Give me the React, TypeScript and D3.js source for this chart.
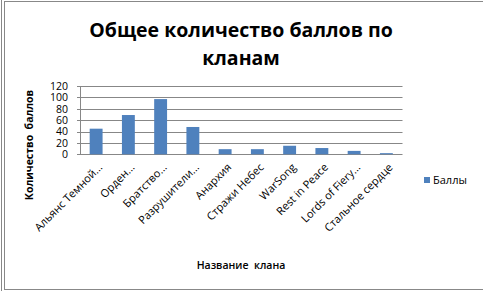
import React from "react";
import * as d3 from "d3";

const categories = [
  "Альянс Темной...",
  "Орден...",
  "Братство...",
  "Разрушители...",
  "Анархия",
  "Стражи Небес",
  "WarSong",
  "Rest in Peace",
  "Lords of Fiery...",
  "Стальное сердце",
];
const values = [45, 69, 97, 48, 9, 9, 15, 11, 6, 2];
const yTicks = [0, 20, 40, 60, 80, 100, 120];
const titleLines = ["Общее количество баллов по", "кланам"];
const seriesName = "Баллы";
const yTitle = "Количество  баллов";
const xTitle = "Название  клана";

const W = 483;
const H = 291;
const plot = { left: 80, right: 402.5, top: 86, bottom: 154.3 };
const FONT = "'Open Sans', 'DejaVu Sans', sans-serif";
const BAR = "#4F81BD";
const GRID = "#878787";

export default function App() {
  const x = d3
    .scaleBand<string>()
    .domain(categories)
    .range([plot.left, plot.right])
    .paddingInner(0.6)
    .paddingOuter(0.3);
  const y = d3.scaleLinear().domain([0, 120]).range([plot.bottom, plot.top]);

  return (
    <svg
      width={W}
      height={H}
      style={{ position: "absolute", left: 0, top: 0, background: "#fff" }}
      fontFamily={FONT}
    >
      {/* chart border */}
      <line x1={1.5} y1={0} x2={1.5} y2={H} stroke="#888" strokeWidth={1} />
      <line x1={4.5} y1={1} x2={4.5} y2={290} stroke="#888" strokeWidth={1} />
      <line x1={4.5} y1={1.5} x2={W} y2={1.5} stroke="#888" strokeWidth={1} />
      <line x1={4.5} y1={289.5} x2={W} y2={289.5} stroke="#888" strokeWidth={1} />

      {/* title */}
      {titleLines.map((t, i) => (
        <text
          key={i}
          x={241}
          y={37 + i * 28}
          textAnchor="middle"
          fontSize={19.5}
          fontWeight="bold"
          fill="#000"
        >
          {t}
        </text>
      ))}

      {/* gridlines */}
      {yTicks.map((t) => (
        <g key={t}>
          <line
            x1={plot.left - 3}
            x2={plot.right}
            y1={Math.round(y(t)) + 0.5}
            y2={Math.round(y(t)) + 0.5}
            stroke={GRID}
            strokeWidth={1}
          />
          <text
            x={plot.left - 12}
            y={y(t) + 3.8}
            textAnchor="end"
            fontSize={10.5}
            fill="#000"
          >
            {t}
          </text>
        </g>
      ))}
      <line
        x1={plot.left + 0.5}
        x2={plot.left + 0.5}
        y1={plot.top}
        y2={plot.bottom}
        stroke={GRID}
      />

      {/* bars */}
      {categories.map((c, i) => (
        <rect
          key={c}
          x={x(c)}
          y={y(values[i])}
          width={x.bandwidth()}
          height={y(0) - y(values[i])}
          fill={BAR}
        />
      ))}

      {/* x labels */}
      {categories.map((c) => {
        const cx = (x(c) as number) + x.bandwidth() / 2 + 7;
        const cy = 168;
        return (
          <text
            key={c}
            x={cx}
            y={cy}
            textAnchor="end"
            fontSize={11}
            fill="#000"
            transform={`rotate(-45 ${cx} ${cy})`}
          >
            {c}
          </text>
        );
      })}

      {/* y title */}
      <text
        x={0}
        y={0}
        transform={`translate(33 ${145}) rotate(-90)`}
        textAnchor="middle"
        fontSize={10.5}
        fontWeight="bold"
        fill="#000"
        style={{ whiteSpace: "pre" }}
      >
        {yTitle}
      </text>

      {/* x title */}
      <text
        x={241}
        y={269}
        textAnchor="middle"
        fontSize={10.5}
        fontWeight={600}
        fill="#000"
        style={{ whiteSpace: "pre" }}
      >
        {xTitle}
      </text>

      {/* legend */}
      <rect x={424} y={177} width={6} height={6} fill={BAR} />
      <text x={433} y={184} fontSize={11} fill="#000">
        {seriesName}
      </text>
    </svg>
  );
}
